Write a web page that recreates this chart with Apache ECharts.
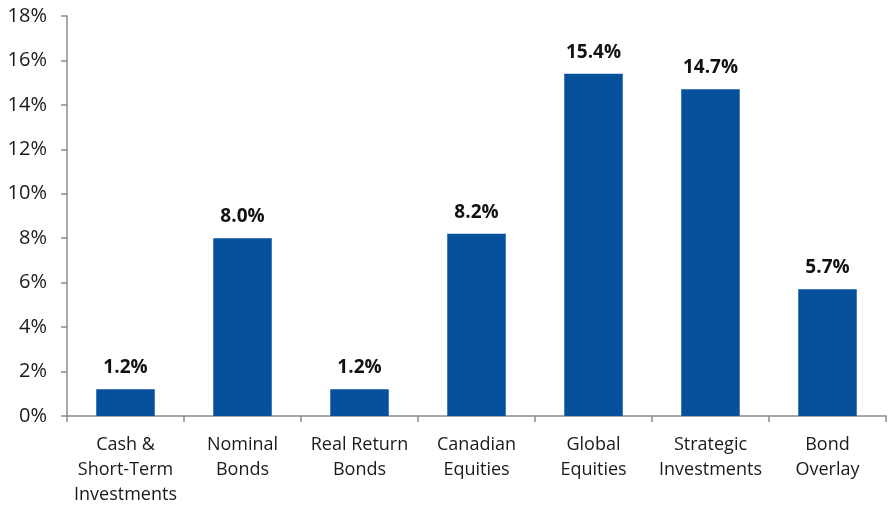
<!DOCTYPE html>
<html>
<head>
<meta charset="utf-8">
<script src="https://cdn.jsdelivr.net/npm/echarts@6/dist/echarts.min.js"></script>
<style>html,body{margin:0;padding:0;background:#fff}#c{width:891px;height:507px}</style>
</head>
<body>
<div id="c"></div>
<script>
const categories = ["Cash &\nShort-Term\nInvestments", "Nominal\nBonds", "Real Return\nBonds", "Canadian\nEquities", "Global\nEquities", "Strategic\nInvestments", "Bond\nOverlay"];
const values = [1.2, 8.0, 1.2, 8.2, 15.4, 14.7, 5.7];
const yTicks = {min: 0, max: 18, interval: 2};

const chart = echarts.init(document.getElementById('c'));
chart.setOption({
  animation: false,
  grid: {left: 67, right: 5, top: 16, bottom: 91, containLabel: false},
  xAxis: {
    type: 'category',
    data: categories,
    axisLine: {lineStyle: {color: '#8c8c8c', width: 1.5}},
    axisTick: {show: true, length: 6, lineStyle: {color: '#8c8c8c', width: 1.5}},
    axisLabel: {color: '#1a1a1a', fontFamily: 'Open Sans, Liberation Sans, sans-serif', fontSize: 18, lineHeight: 25, margin: 16, interval: 0}
  },
  yAxis: {
    type: 'value',
    min: yTicks.min, max: yTicks.max, interval: yTicks.interval,
    splitLine: {show: false},
    axisLine: {show: true, lineStyle: {color: '#8c8c8c', width: 1.5}},
    axisTick: {show: true, length: 6, lineStyle: {color: '#8c8c8c', width: 1.5}},
    axisLabel: {color: '#1a1a1a', fontFamily: 'Open Sans, Liberation Sans, sans-serif', fontSize: 20, margin: 20, formatter: v => v + '%'}
  },
  series: [{
    type: 'bar',
    data: values,
    barWidth: '50%',
    itemStyle: {color: '#07519c'},
    label: {show: true, position: 'top', distance: 12, color: '#111', fontWeight: 'bold', fontSize: 19, fontFamily: 'Open Sans, Liberation Sans, sans-serif', formatter: p => p.value.toFixed(1) + '%'}
  }]
});
</script>
</body>
</html>
